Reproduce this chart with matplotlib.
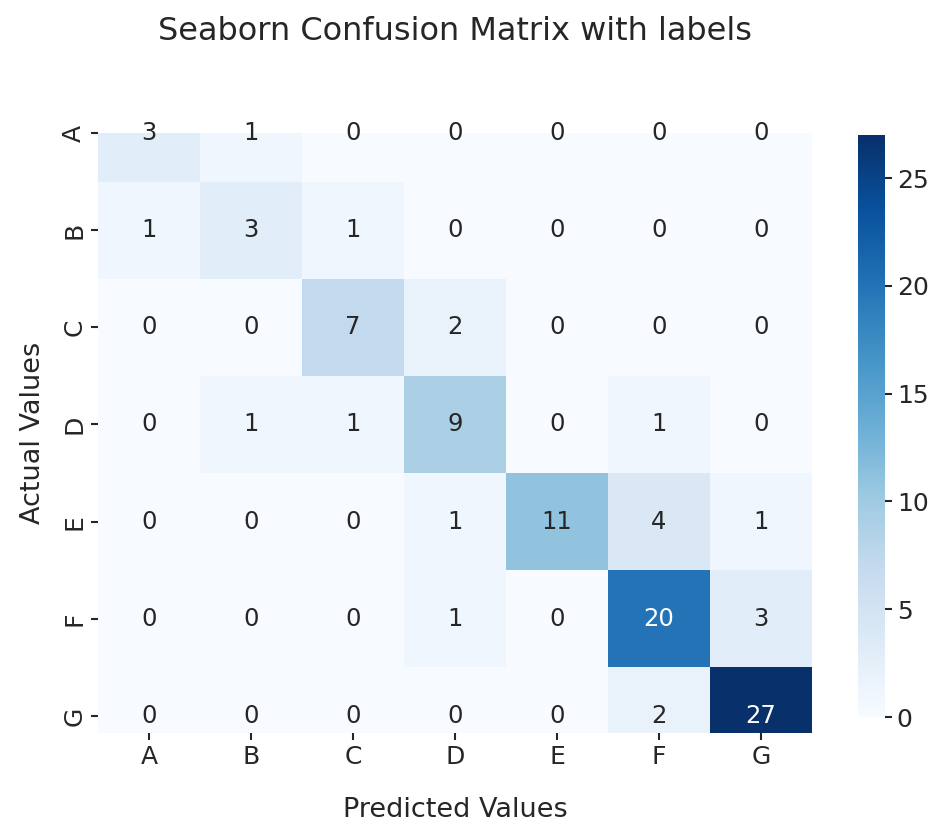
import numpy as np
import matplotlib
matplotlib.use("Agg")
import matplotlib.pyplot as plt
import seaborn as sns

labels = ["A", "B", "C", "D", "E", "F", "G"]
cf_matrix = np.array([
    [3, 1, 0, 0, 0, 0, 0],
    [1, 3, 1, 0, 0, 0, 0],
    [0, 0, 7, 2, 0, 0, 0],
    [0, 1, 1, 9, 0, 1, 0],
    [0, 0, 0, 1, 11, 4, 1],
    [0, 0, 0, 1, 0, 20, 3],
    [0, 0, 0, 0, 0, 2, 27],
])

plt.rcParams['font.family'] = ['DejaVu Sans']
text_col = '.15'

fig = plt.figure(figsize=(9.4, 8.27), dpi=100)
ax = fig.add_axes([0.1043, 0.1137, 0.7596, 0.7255])
cax = fig.add_axes([0.9128, 0.133, 0.0287, 0.7037])

sns.heatmap(cf_matrix, annot=True, cmap='Blues', ax=ax, cbar_ax=cax,
            annot_kws={'fontsize': 17},
            xticklabels=labels, yticklabels=labels)

# the cropped look of the original (top row half hidden)
ax.set_ylim(6.675, 0.5)

ax.set_title('Seaborn Confusion Matrix with labels', fontsize=23, color=text_col, pad=67)
ax.set_xlabel('Predicted Values', fontsize=19.5, color=text_col, labelpad=20)
ax.set_ylabel('Actual Values', fontsize=19.5, color=text_col, labelpad=12)
ax.tick_params(axis='both', labelsize=18, colors=text_col, length=5, width=1.5)
ax.tick_params(axis='y', labelrotation=90)
for t in ax.texts:
    t.set_fontsize(17.5)

cax.tick_params(labelsize=18, colors=text_col, length=5, width=1.5)
cax.set_yticks([0, 5, 10, 15, 20, 25])
for s in cax.spines.values():
    s.set_visible(False)

fig.savefig('out.png', dpi=100)
